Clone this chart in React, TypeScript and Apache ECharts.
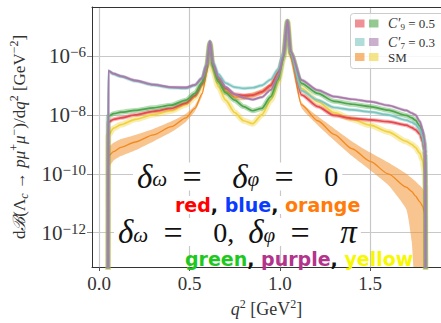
import React, { useEffect, useRef } from "react";
import * as echarts from "echarts";

// q^2 sample points (GeV^2)
const q = [0.049, 0.0505, 0.08, 0.12, 0.2, 0.3, 0.4, 0.48, 0.53, 0.57, 0.595, 0.613, 0.63, 0.66, 0.7, 0.75, 0.8, 0.85, 0.9, 0.95, 0.99, 1.02, 1.042, 1.06, 1.12, 1.21, 1.3, 1.4, 1.5, 1.6, 1.7, 1.73, 1.75, 1.775, 1.79, 1.8, 1.805, 1.807];

// log10 of dB/dq^2
const purpleLog = [-14, -6.5, -6.6, -6.68, -6.83, -6.97, -7.06, -7.07, -6.98, -6.75, -6.3, -5.5, -6.25, -6.72, -7.05, -7.3, -7.42, -7.48, -7.4, -7.15, -6.7, -6.0, -4.8, -5.85, -6.82, -7.16, -7.38, -7.47, -7.55, -7.68, -7.85, -7.94, -8.0, -8.22, -8.5, -8.8, -9.2, -14];
const cyanLog = [-14, -6.52, -6.62, -6.7, -6.85, -6.99, -7.08, -7.1, -7.0, -6.74, -6.28, -5.5, -6.2, -6.62, -6.92, -7.06, -7.1, -7.08, -7.0, -6.8, -6.45, -5.9, -4.8, -5.9, -7.18, -7.5, -7.75, -7.83, -7.9, -8.0, -8.18, -8.25, -8.32, -8.5, -8.75, -9.05, -9.45, -14];
const greenLog = [-14, -8.05, -7.96, -7.91, -7.85, -7.76, -7.67, -7.5, -7.27, -6.9, -6.35, -5.55, -6.38, -6.88, -7.25, -7.5, -7.72, -7.86, -7.78, -7.38, -6.8, -6.05, -4.82, -5.9, -6.93, -7.27, -7.54, -7.64, -7.72, -7.84, -8.02, -8.1, -8.18, -8.38, -8.65, -8.95, -9.35, -14];
const redLog = [-14, -8.25, -8.15, -8.1, -8.0, -7.88, -7.78, -7.6, -7.35, -6.95, -6.4, -5.55, -6.33, -6.8, -7.1, -7.3, -7.34, -7.33, -7.22, -7.0, -6.55, -5.95, -4.82, -5.95, -7.32, -7.72, -8.02, -8.12, -8.17, -8.23, -8.35, -8.43, -8.5, -8.65, -8.9, -9.2, -9.6, -14];
const yellowLog = [-14, -8.7, -8.45, -8.33, -8.15, -7.99, -7.86, -7.65, -7.4, -7.0, -6.45, -5.58, -6.5, -7.05, -7.5, -7.92, -8.2, -8.3, -8.0, -7.5, -6.9, -6.1, -4.84, -5.95, -7.1, -7.55, -7.92, -8.15, -8.35, -8.58, -8.9, -9.0, -9.1, -9.3, -9.55, -9.9, -10.4, -14];
const orangeLog = [-14, -9.4, -9.25, -9.1, -8.92, -8.68, -8.4, -8.1, -7.78, -7.28, -6.6, -5.6, -6.4, -6.85, -7.2, -7.4, -7.4, -7.33, -7.22, -7.0, -6.55, -5.95, -4.84, -6.05, -7.66, -8.2, -8.66, -9.15, -9.58, -10.0, -10.45, -10.6, -10.75, -10.95, -11.1, -11.3, -11.6, -14];
const orangeHiLog = [-9.1, -9.1, -8.95, -8.82, -8.68, -8.48, -8.22, -7.96, -7.68, -7.2, -6.55, -5.57, -6.33, -6.75, -7.1, -7.3, -7.3, -7.23, -7.12, -6.9, -6.47, -5.9, -4.82, -5.98, -7.56, -8.05, -8.46, -8.9, -9.28, -9.62, -10.0, -10.15, -10.25, -10.4, -10.5, -10.6, -10.8, -10.9];
const orangeLoLog = [-14, -9.85, -9.55, -9.4, -9.2, -8.9, -8.58, -8.24, -7.88, -7.36, -6.65, -5.63, -6.47, -6.95, -7.3, -7.5, -7.5, -7.43, -7.32, -7.1, -6.63, -6.0, -4.86, -6.12, -7.76, -8.35, -8.86, -9.4, -9.88, -10.38, -11.2, -12.3, -14, -14, -14, -14, -14, -14];

const xTicks = [0, 0.5, 1.0, 1.5];
const yTicks = [-12, -10, -8, -6];

const C = {
  red: "#e5484d",
  green: "#4ca64a",
  cyan: "#7cc5c0",
  purple: "#a87aaa",
  orange: "#f28a1f",
  yellow: "#f0d23c",
};

const SERIF = "'Liberation Serif', 'DejaVu Serif', serif";
const SANS = "'DejaVu Sans', sans-serif";
const EN = "\u2002";
const TH = "\u2009";
const EQ = ` ${TH}=${TH}${TH}${EN}`;

const pairs = (ys: number[]) => q.map((x, i) => [x, ys[i]]);

export default function App() {
  const ref = useRef<HTMLDivElement>(null);
  useEffect(() => {
    if (!ref.current) return;
    const chart = echarts.init(ref.current, undefined, { renderer: "svg" });

    const lineSeries = (name: string, data: number[], color: string, bandW: number, w = 1.7) => {
      const out: any[] = [];
      if (bandW > 0) {
        out.push({
          type: "line",
          name: name + "band",
          data: pairs(data),
          showSymbol: false,
          symbol: "none",
          smooth: 0.25,
          smoothMonotone: "x",
          lineStyle: { color, width: bandW, opacity: 0.4 },
          silent: true,
        });
      }
      out.push({
        type: "line",
        name,
        data: pairs(data),
        showSymbol: false,
        symbol: "none",
        smooth: 0.25,
        smoothMonotone: "x",
        lineStyle: { color, width: w },
        silent: true,
      });
      return out;
    };

    const ySup = (v: number) => `{b|10}{e|${v < 0 ? "−" : ""}${Math.abs(v)}}`;

    const mathRich = {
      d: { fontFamily: SERIF, fontSize: 33, fontStyle: "italic", fill: "#111", lineHeight: 26 },
      n: { fontFamily: SERIF, fontSize: 28, fill: "#111", lineHeight: 26 },
      e: { fontFamily: SERIF, fontSize: 34, fill: "#111", lineHeight: 26 },
      c: { fontFamily: SERIF, fontSize: 28, fill: "#111", lineHeight: 26 },
      s: { fontFamily: SERIF, fontSize: 21, fontStyle: "italic", fill: "#111", verticalAlign: "bottom", lineHeight: 15 },
    };

    const option: any = {
      animation: false,
      backgroundColor: "#fff",
      grid: { left: 86, right: 0, top: 7, bottom: 50 },
      xAxis: [
        {
          type: "value",
          min: -0.0397,
          max: 1.892,
          axisLine: { show: true, onZero: false, lineStyle: { color: "#333", width: 1 } },
          axisTick: { show: true, customValues: xTicks, length: 4, lineStyle: { color: "#555" } },
          axisLabel: {
            customValues: xTicks,
            formatter: (v: number) => v.toFixed(1),
            fontFamily: SERIF,
            fontSize: 19,
            color: "#333",
            margin: 7,
          },
          splitLine: { show: true, lineStyle: { color: "#c8c8c8", width: 1.2 } },
          name: "{i|q}{s|2} [GeV{s|2}]",
          nameLocation: "middle",
          nameGap: 31,
          nameTextStyle: {
            fontFamily: SERIF,
            fontSize: 18,
            color: "#333",
            rich: {
              i: { fontFamily: SERIF, fontSize: 18, fontStyle: "italic", color: "#333", lineHeight: 22 },
              s: { fontFamily: SERIF, fontSize: 12, color: "#333", verticalAlign: "top", lineHeight: 14 },
            },
          },
        },
        {
          type: "value",
          position: "top",
          min: -0.0397,
          max: 1.892,
          axisLine: { show: true, onZero: false, lineStyle: { color: "#333", width: 1 } },
          axisTick: { show: false },
          axisLabel: { show: false },
          splitLine: { show: false },
        },
      ],
      yAxis: {
        type: "value",
        min: -13.163,
        max: -4.339,
        axisLine: { show: true, onZero: false, lineStyle: { color: "#333", width: 1 } },
        axisTick: { show: true, customValues: yTicks, length: 5, lineStyle: { color: "#888" } },
        axisLabel: {
          customValues: yTicks,
          formatter: ySup,
          margin: 6,
          fontFamily: SERIF,
          fontSize: 20,
          color: "#333",
          rich: {
            b: { fontFamily: SERIF, fontSize: 21, color: "#333", lineHeight: 22 },
            e: { fontFamily: SERIF, fontSize: 15, color: "#333", verticalAlign: "top", lineHeight: 14 },
          },
        },
        splitLine: { show: true, lineStyle: { color: "#c8c8c8", width: 1.2 } },
        name: "d{c|ℬ}(Λ{sb|c} → {i|pμ}{sp|+}{i|μ}{sp|−})/d{i|q}{sp|2} [GeV{sp|−2}]",
        nameLocation: "middle",
        nameRotate: 90,
        nameGap: 62,
        nameTextStyle: {
          fontFamily: SERIF,
          fontSize: 17,
          color: "#333",
          rich: {
            c: { fontFamily: SERIF, fontSize: 17, fontStyle: "italic", color: "#333", lineHeight: 22 },
            i: { fontFamily: SERIF, fontSize: 17, fontStyle: "italic", color: "#333", lineHeight: 22 },
            sb: { fontFamily: SERIF, fontSize: 12, fontStyle: "italic", color: "#333", verticalAlign: "bottom", lineHeight: 14 },
            sp: { fontFamily: SERIF, fontSize: 12, color: "#333", verticalAlign: "top", lineHeight: 14 },
          },
        },
      },
      series: [
        {
          type: "custom",
          name: "orangeBand",
          data: pairs(orangeHiLog),
          encode: { x: 0, y: 1 },
          clip: true,
          silent: true,
          renderItem: (params: any, api: any) => {
            if (params.dataIndex !== 0) return null;
            const pts: number[][] = [];
            for (let i = 0; i < q.length; i++) pts.push(api.coord([q[i], orangeHiLog[i]]));
            for (let i = q.length - 1; i >= 0; i--) pts.push(api.coord([q[i], orangeLoLog[i]]));
            const cs = params.coordSys;
            return {
              type: "group",
              clipPath: { type: "rect", shape: { x: cs.x, y: cs.y, width: cs.width, height: cs.height } },
              children: [
                {
                  type: "polygon",
                  shape: { points: pts, smooth: 0.15 },
                  style: { fill: C.orange, opacity: 0.5 },
                },
              ],
            };
          },
        },
        ...lineSeries("yellow", yellowLog, C.yellow, 6),
        ...lineSeries("orange", orangeLog, C.orange, 0, 1.3),
        ...lineSeries("red", redLog, C.red, 4),
        ...lineSeries("green", greenLog, C.green, 5),
        ...lineSeries("cyan", cyanLog, C.cyan, 3.5),
        ...lineSeries("purple", purpleLog, C.purple, 3),
      ],
      graphic: [
        // legend box
        {
          type: "rect",
          shape: { x: 350.5, y: 13.5, width: 100, height: 55, r: 3 },
          style: { fill: "rgba(255,255,255,0.85)", stroke: "#cccccc", lineWidth: 1 },
          z: 100,
        },
        { type: "rect", shape: { x: 355, y: 19.5, width: 9.5, height: 8 }, style: { fill: C.red, opacity: 0.6 }, z: 101 },
        { type: "rect", shape: { x: 369, y: 19.5, width: 9.5, height: 8 }, style: { fill: C.green, opacity: 0.6 }, z: 101 },
        { type: "rect", shape: { x: 355, y: 38, width: 9.5, height: 8 }, style: { fill: C.cyan, opacity: 0.6 }, z: 101 },
        { type: "rect", shape: { x: 369, y: 38, width: 9.5, height: 8 }, style: { fill: C.purple, opacity: 0.6 }, z: 101 },
        { type: "rect", shape: { x: 355, y: 53, width: 9.5, height: 8 }, style: { fill: C.orange, opacity: 0.6 }, z: 101 },
        { type: "rect", shape: { x: 369, y: 53, width: 9.5, height: 8 }, style: { fill: C.yellow, opacity: 0.6 }, z: 101 },
        {
          type: "text",
          x: 388,
          y: 23.5,
          z: 101,
          style: {
            text: "{i|C′}{s|9}{n| = 0.5}",
            verticalAlign: "middle",
            rich: {
              i: { fontFamily: SERIF, fontSize: 14, fontStyle: "italic", fill: "#333", lineHeight: 16 },
              s: { fontFamily: SERIF, fontSize: 9, fill: "#333", verticalAlign: "bottom", lineHeight: 9 },
              n: { fontFamily: SERIF, fontSize: 13, fill: "#333", lineHeight: 16 },
            },
          },
        },
        {
          type: "text",
          x: 388,
          y: 42,
          z: 101,
          style: {
            text: "{i|C′}{s|7}{n| = 0.3}",
            verticalAlign: "middle",
            rich: {
              i: { fontFamily: SERIF, fontSize: 14, fontStyle: "italic", fill: "#333", lineHeight: 16 },
              s: { fontFamily: SERIF, fontSize: 9, fill: "#333", verticalAlign: "bottom", lineHeight: 9 },
              n: { fontFamily: SERIF, fontSize: 13, fill: "#333", lineHeight: 16 },
            },
          },
        },
        {
          type: "text",
          x: 388,
          y: 57.5,
          z: 101,
          style: { text: "SM", fontFamily: SERIF, fontSize: 13, fill: "#333", verticalAlign: "middle" },
        },
        // overlay annotations
        {
          type: "text",
          x: 133,
          y: 176.5,
          z: 110,
          style: {
            text: `{d|δ}{s|ω}{e|${EQ}}{d|δ}{s|φ}{e|${EQ}}{n|0}`,
            verticalAlign: "middle",
            backgroundColor: "#fff",
            padding: [1, 4, 1, 4],
            rich: mathRich,
          },
        },
        {
          type: "text",
          x: 175,
          y: 205,
          z: 111,
          style: {
            text: "{r|red}{k|, }{b|blue}{k|, }{o|orange}",
            verticalAlign: "middle",
            backgroundColor: "#fff",
            rich: {
              r: { fontFamily: SANS, fontWeight: "bold", fontSize: 19, fill: "#ff0000", lineHeight: 18 },
              b: { fontFamily: SANS, fontWeight: "bold", fontSize: 19, fill: "#0a3cff", lineHeight: 18 },
              o: { fontFamily: SANS, fontWeight: "bold", fontSize: 19, fill: "#ff7c0a", lineHeight: 18 },
              k: { fontFamily: SANS, fontWeight: "bold", fontSize: 19, fill: "#111", lineHeight: 18 },
            },
          },
        },
        {
          type: "text",
          x: 114,
          y: 232,
          z: 110,
          style: {
            text: `{d|δ}{s|ω}{e|${EQ}}{n|0}{c|,${EN}}{d|δ}{s|φ}{e|${EQ}}{d|π}`,
            verticalAlign: "middle",
            backgroundColor: "#fff",
            padding: [1, 4, 1, 4],
            rich: mathRich,
          },
        },
        {
          type: "text",
          x: 185,
          y: 258.5,
          z: 111,
          style: {
            text: "{g|green}{k|, }{p|purple}{k|, }{y|yellow}",
            verticalAlign: "middle",
            rich: {
              g: { fontFamily: SANS, fontWeight: "bold", fontSize: 19, fill: "#1ec81e", lineHeight: 18 },
              p: { fontFamily: SANS, fontWeight: "bold", fontSize: 19, fill: "#b3348c", lineHeight: 18 },
              y: { fontFamily: SANS, fontWeight: "bold", fontSize: 19, fill: "#f8f800", lineHeight: 18 },
              k: { fontFamily: SANS, fontWeight: "bold", fontSize: 19, fill: "#111", lineHeight: 18 },
            },
          },
        },
      ],
    };

    chart.setOption(option);
    return () => chart.dispose();
  }, []);

  return <div ref={ref} style={{ width: 441, height: 323, position: "absolute", left: 0, top: 0 }} />;
}
